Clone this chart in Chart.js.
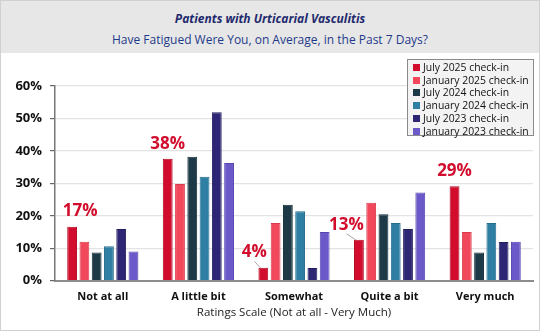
<!DOCTYPE html>
<html lang="en">
<head>
<meta charset="UTF-8">
<title>Patients with Urticarial Vasculitis - Fatigue</title>
<style>
  body { margin: 0; background: #fff; font-family: 'Open Sans', sans-serif; }
  #wrap { position: relative; width: 540px; height: 331px; box-sizing: border-box; border: 1px solid #d0d0d0; overflow: hidden; }
  #head { position: absolute; left: 0; top: 0; width: 538px; height: 52px; background: #e7e7e7; text-align: center; color: #1f2a6e; }
  #head .t1 { position: absolute; left: 0; right: 0; top: 9px; font-size: 12px; font-weight: bold; font-style: italic; }
  #head .t2 { position: absolute; left: 0; right: 0; top: 30px; font-size: 12px; color: #1f3a8a; }
  #box { position: absolute; left: 0; top: 53px; width: 538px; height: 276px; }
  #legend { position: absolute; left: 406px; top: 58px; width: 127px; height: 77px; box-sizing: border-box; border: 1px solid #8a8a8a; background: #f3f3f3; padding: 1px 0 0 5px; font-size: 10.4px; line-height: 12.7px; color: #111; }
  #legend div { white-space: nowrap; }
  #legend span { display: inline-block; width: 7px; height: 7px; margin-right: 3px; vertical-align: 0px; }
</style>
</head>
<body>
<div id="wrap">
  <div id="head">
    <div class="t1">Patients with Urticarial Vasculitis</div>
    <div class="t2">Have Fatigued Were You, on Average, in the Past 7 Days?</div>
  </div>
  <div id="box"><canvas id="chart"></canvas></div>
  <div id="legend"></div>
</div>

<script src="https://cdn.jsdelivr.net/npm/chart.js"></script>
<script>
  // categories and series (percent)
  const categories = ['Not at all', 'A little bit', 'Somewhat', 'Quite a bit', 'Very much'];
  const seriesNames = ['July 2025 check-in', 'January 2025 check-in', 'July 2024 check-in', 'January 2024 check-in', 'July 2023 check-in', 'January 2023 check-in'];
  const july2025 = [16.6, 37.6, 4.0, 12.6, 29.1];
  const jan2025  = [12.0, 29.8, 17.8, 24.0, 15.0];
  const july2024 = [8.7, 38.2, 23.4, 20.5, 8.7];
  const jan2024  = [10.6, 32.0, 21.4, 17.8, 17.8];
  const july2023 = [15.9, 51.9, 3.9, 15.9, 11.9];
  const jan2023  = [9.0, 36.3, 15.0, 27.2, 12.0];
  const yTicks = [0, 10, 20, 30, 40, 50, 60];

  const colors  = ['#d20c2c', '#f2485b', '#1e3a47', '#2e7fa3', '#2d2674', '#6b58c9'];
  const borders = ['#b00a24', '#d93a4c', '#15303b', '#256c8c', '#221d5e', '#5847b0'];
  const values = [july2025, jan2025, july2024, jan2024, july2023, jan2023];

  // legend
  document.getElementById('legend').innerHTML = seriesNames.map((n, i) =>
    `<div><span style="background:${colors[i]}"></span>${n}</div>`).join('');

  // red labels on the July 2025 bars
  const julyLabels = {
    id: 'julyLabels',
    afterDatasetsDraw(chart, args, opts) {
      const ctx = chart.ctx;
      const meta = chart.getDatasetMeta(0);
      ctx.save();
      ctx.font = 'bold 17px "Open Sans"';
      ctx.fillStyle = '#d20c2c';
      ctx.textAlign = 'center';
      ctx.textBaseline = 'alphabetic';
      meta.data.forEach((bar, i) => {
        const o = opts.offsets[i];
        const tx = bar.x + o[0], ty = bar.y + o[1];
        ctx.fillText(Math.round(july2025[i]) + '%', tx, ty);
        if (o[2]) {
          ctx.strokeStyle = '#a8a8a8';
          ctx.lineWidth = 1;
          ctx.beginPath();
          ctx.moveTo(tx, ty + 4);
          ctx.lineTo(bar.x - 3, bar.y);
          ctx.stroke();
        }
      });
      ctx.restore();
    }
  };

  new Chart(document.getElementById('chart'), {
    type: 'bar',
    data: {
      labels: categories,
      datasets: values.map((v, i) => ({
        label: seriesNames[i],
        data: v,
        backgroundColor: colors[i],
        borderColor: borders[i],
        borderWidth: 1,
        categoryPercentage: 0.77,
        barPercentage: 0.8
      }))
    },
    options: {
      responsive: true,
      maintainAspectRatio: false,
      animation: false,
      layout: { padding: { top: 32, right: 6, left: 0, bottom: 0 } },
      plugins: {
        legend: { display: false },
        tooltip: { enabled: false },
        julyLabels: { offsets: [[8, -10.5, 0], [0, -10, 0], [-9, -10.5, 1], [-12.5, -10, 1], [0, -10, 0]] }
      },
      scales: {
        x: {
          afterFit: s => { s.height = 49.3; },
          grid: { display: false, drawTicks: false },
          border: { display: true, color: '#8c8c8c', width: 2 },
          ticks: { padding: 10, color: '#111', font: { family: 'Open Sans', size: 11, weight: 'bold' } },
          title: { display: true, text: 'Ratings Scale (Not at all - Very Much)', color: '#222', padding: { top: 0, bottom: 10 }, font: { family: 'Open Sans', size: 11.5 } }
        },
        y: {
          min: 0, max: 60,
          afterFit: s => { s.width = 54; },
          afterBuildTicks: s => { s.ticks = yTicks.map(v => ({ value: v })); },
          grid: { color: '#e3e3e3', lineWidth: 1.2, tickColor: '#666', tickLength: 5 },
          border: { display: true, color: '#777', width: 1.5 },
          ticks: { padding: 8, color: '#111', font: { family: 'Open Sans', size: 13, weight: 'bold' }, callback: v => v + '%' }
        }
      }
    },
    plugins: [julyLabels]
  });
</script>
</body>
</html>
